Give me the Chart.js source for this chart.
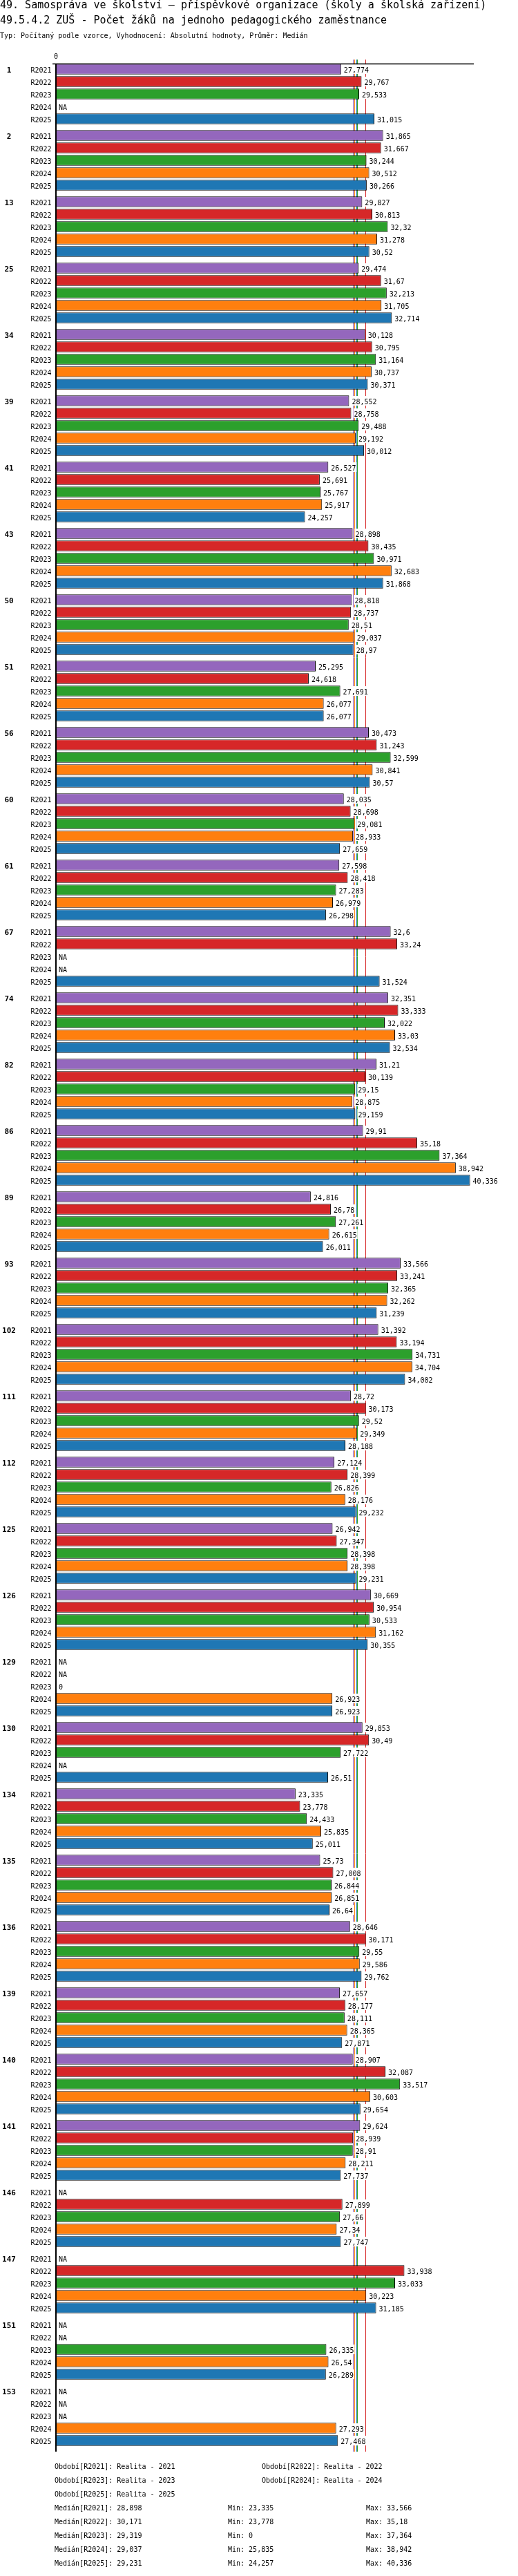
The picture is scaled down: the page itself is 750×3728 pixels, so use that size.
<!DOCTYPE html>
<html>
<head>
<meta charset="utf-8">
<script src="https://cdn.jsdelivr.net/npm/chart.js@4/dist/chart.umd.min.js"></script>
<style>
html,body{margin:0;padding:0;background:#fff;}
body{width:750px;height:3728px;position:relative;overflow:hidden;font-family:"DejaVu Sans Mono",monospace;color:#000;}
#c{position:absolute;left:0;top:0;}
.t{position:absolute;white-space:pre;margin:0;}
.s{font-size:10px;line-height:10px;}
</style>
</head>
<body>
<canvas id="c" width="750" height="3728" style="width:750px;height:3728px"></canvas>
<div class="t" style="left:0;top:0;font-size:15px;line-height:15px">49. Samospráva ve školství – příspěvkové organizace (školy a školská zařízení)</div>
<div class="t" style="left:0;top:22px;font-size:15px;line-height:15px">49.5.4.2 ZUŠ - Počet žáků na jednoho pedagogického zaměstnance</div>
<div class="t s" style="left:0;top:46.5px">Typ: Počítaný podle vzorce, Vyhodnocení: Absolutní hodnoty, Průměr: Medián</div>
<div id="footer"></div>
<script>
const groups = ['1','2','13','25','34','39','41','43','50','51','56','60','61','67','74','82','86','89','93','102','111','112','125','126','129','130','134','135','136','139','140','141','146','147','151','153'];
const periods = ['R2021','R2022','R2023','R2024','R2025'];
const periodNames = ['Realita - 2021','Realita - 2022','Realita - 2023','Realita - 2024','Realita - 2025'];

const r2021 = [27.774,31.865,29.827,29.474,30.128,28.552,26.527,28.898,28.818,25.295,30.473,28.035,27.598,32.6,32.351,31.21,29.91,24.816,33.566,31.392,28.72,27.124,26.942,30.669,null,29.853,23.335,25.73,28.646,27.657,28.907,29.624,null,null,null,null];
const r2022 = [29.767,31.667,30.813,31.67,30.795,28.758,25.691,30.435,28.737,24.618,31.243,28.698,28.418,33.24,33.333,30.139,35.18,26.78,33.241,33.194,30.173,28.399,27.347,30.954,null,30.49,23.778,27.008,30.171,28.177,32.087,28.939,27.899,33.938,null,null];
const r2023 = [29.533,30.244,32.32,32.213,31.164,29.488,25.767,30.971,28.51,27.691,32.599,29.081,27.283,null,32.022,29.15,37.364,27.261,32.365,34.731,29.52,26.826,28.398,30.533,0,27.722,24.433,26.844,29.55,28.111,33.517,28.91,27.66,33.033,26.335,null];
const r2024 = [null,30.512,31.278,31.705,30.737,29.192,25.917,32.683,29.037,26.077,30.841,28.933,26.979,null,33.03,28.875,38.942,26.615,32.262,34.704,29.349,28.176,28.398,31.162,26.923,null,25.835,26.851,29.586,28.365,30.603,28.211,27.34,30.223,26.54,27.293];
const r2025 = [31.015,30.266,30.52,32.714,30.371,30.012,24.257,31.868,28.97,26.077,30.57,27.659,26.298,31.524,32.534,29.159,40.336,26.011,31.239,34.002,28.188,29.232,29.231,30.355,26.923,26.51,25.011,26.64,29.762,27.871,29.654,27.737,27.747,31.185,26.289,27.468];

const medians = [28.898,30.171,29.319,29.037,29.231];
const mins = [23.335,23.778,0,25.835,24.257];
const maxs = [33.566,35.18,37.364,38.942,40.336];
const xTickLabels = ['0'];
const colors = ['#9467bd','#d62728','#2ca02c','#ff7f0e','#1f77b4'];

const series = [r2021,r2022,r2023,r2024,r2025];
const fmt = v => String(v).replace('.', ',');
const FONT = '"DejaVu Sans Mono", monospace';

const annot = {
  id: 'annot',
  beforeDatasetsDraw(chart) {
    const {ctx, chartArea, scales: {x}} = chart;
    const b0 = chart.getDatasetMeta(0).data[0];
    const top = b0.y - b0.height / 2;
    ctx.save();
    ctx.lineWidth = 1;
    medians.forEach((m, i) => {
      const px = Math.round(x.getPixelForValue(m)) + 0.5;
      ctx.strokeStyle = colors[i];
      ctx.beginPath();
      ctx.moveTo(px, top - 6);
      ctx.lineTo(px, chartArea.bottom + 4);
      ctx.stroke();
    });
    ctx.restore();
  },
  afterDatasetsDraw(chart) {
    const {ctx, chartArea, scales: {x}} = chart;
    const x0 = x.getPixelForValue(0);
    ctx.save();
    ctx.font = '10px ' + FONT;
    ctx.textBaseline = 'alphabetic';
    series.forEach((data, si) => {
      const meta = chart.getDatasetMeta(si);
      meta.data.forEach((bar, gi) => {
        const cy = bar.y;
        const v = data[gi];
        ctx.fillStyle = '#000';
        ctx.textAlign = 'right';
        ctx.fillText(periods[si], 74.5, cy + 5);
        const txt = v == null ? 'NA' : fmt(v);
        const tx = (v == null ? x0 : x.getPixelForValue(v)) + 4;
        const w = ctx.measureText(txt).width;
        ctx.fillStyle = '#fff';
        ctx.fillRect(tx - 1, cy - 7, w + 2, 14);
        ctx.fillStyle = '#000';
        ctx.textAlign = 'left';
        ctx.fillText(txt, tx, cy + 5);
      });
    });
    const m0 = chart.getDatasetMeta(0);
    ctx.font = 'bold 11px ' + FONT;
    ctx.textAlign = 'center';
    ctx.fillStyle = '#000';
    groups.forEach((g, gi) => ctx.fillText(g, 13, m0.data[gi].y + 5));
    // axes
    const top = Math.round(m0.data[0].y - m0.data[0].height / 2) + 0.5;
    ctx.strokeStyle = '#000';
    ctx.lineWidth = 1.3;
    ctx.beginPath();
    ctx.moveTo(76, top);
    ctx.lineTo(chartArea.right, top);
    ctx.stroke();
    ctx.lineWidth = 2;
    ctx.beginPath();
    ctx.moveTo(x0, top);
    ctx.lineTo(x0, chartArea.bottom + 4);
    ctx.stroke();
    ctx.font = '10px ' + FONT;
    ctx.textAlign = 'center';
    ctx.fillText(xTickLabels[0], x0, top - 8);
    ctx.restore();
  }
};

new Chart(document.getElementById('c'), {
  type: 'bar',
  data: {
    labels: groups,
    datasets: series.map((d, i) => ({
      label: periods[i],
      data: d,
      backgroundColor: colors[i],
      borderColor: '#000',
      borderWidth: 1,
      borderSkipped: false,
      categoryPercentage: 0.9375,
      barPercentage: 0.861
    }))
  },
  options: {
    indexAxis: 'y',
    responsive: false,
    maintainAspectRatio: false,
    animation: false,
    layout: {padding: {left: 81, right: 64, top: 88.05, bottom: 183.95}},
    scales: {
      x: {display: false, min: 0, max: 40.7},
      y: {display: false}
    },
    plugins: {legend: {display: false}, tooltip: {enabled: false}}
  },
  plugins: [annot]
});

// footer
const footer = document.getElementById('footer');
function addText(txt, left, top) {
  const d = document.createElement('div');
  d.className = 't s';
  d.style.left = left + 'px';
  d.style.top = top + 'px';
  d.textContent = txt;
  footer.appendChild(d);
}
const fTop = 3565;
periods.forEach((p, i) => {
  const row = Math.floor(i / 2), col = i % 2;
  addText('Období[' + p + ']: ' + periodNames[i], col ? 379 : 79, fTop + row * 20);
});
periods.forEach((p, i) => {
  const y = fTop + (3 + i) * 20;
  addText('Medián[' + p + ']: ' + fmt(medians[i]), 79, y);
  addText('Min: ' + fmt(mins[i]), 330, y);
  addText('Max: ' + fmt(maxs[i]), 530, y);
});
</script>
</body>
</html>
